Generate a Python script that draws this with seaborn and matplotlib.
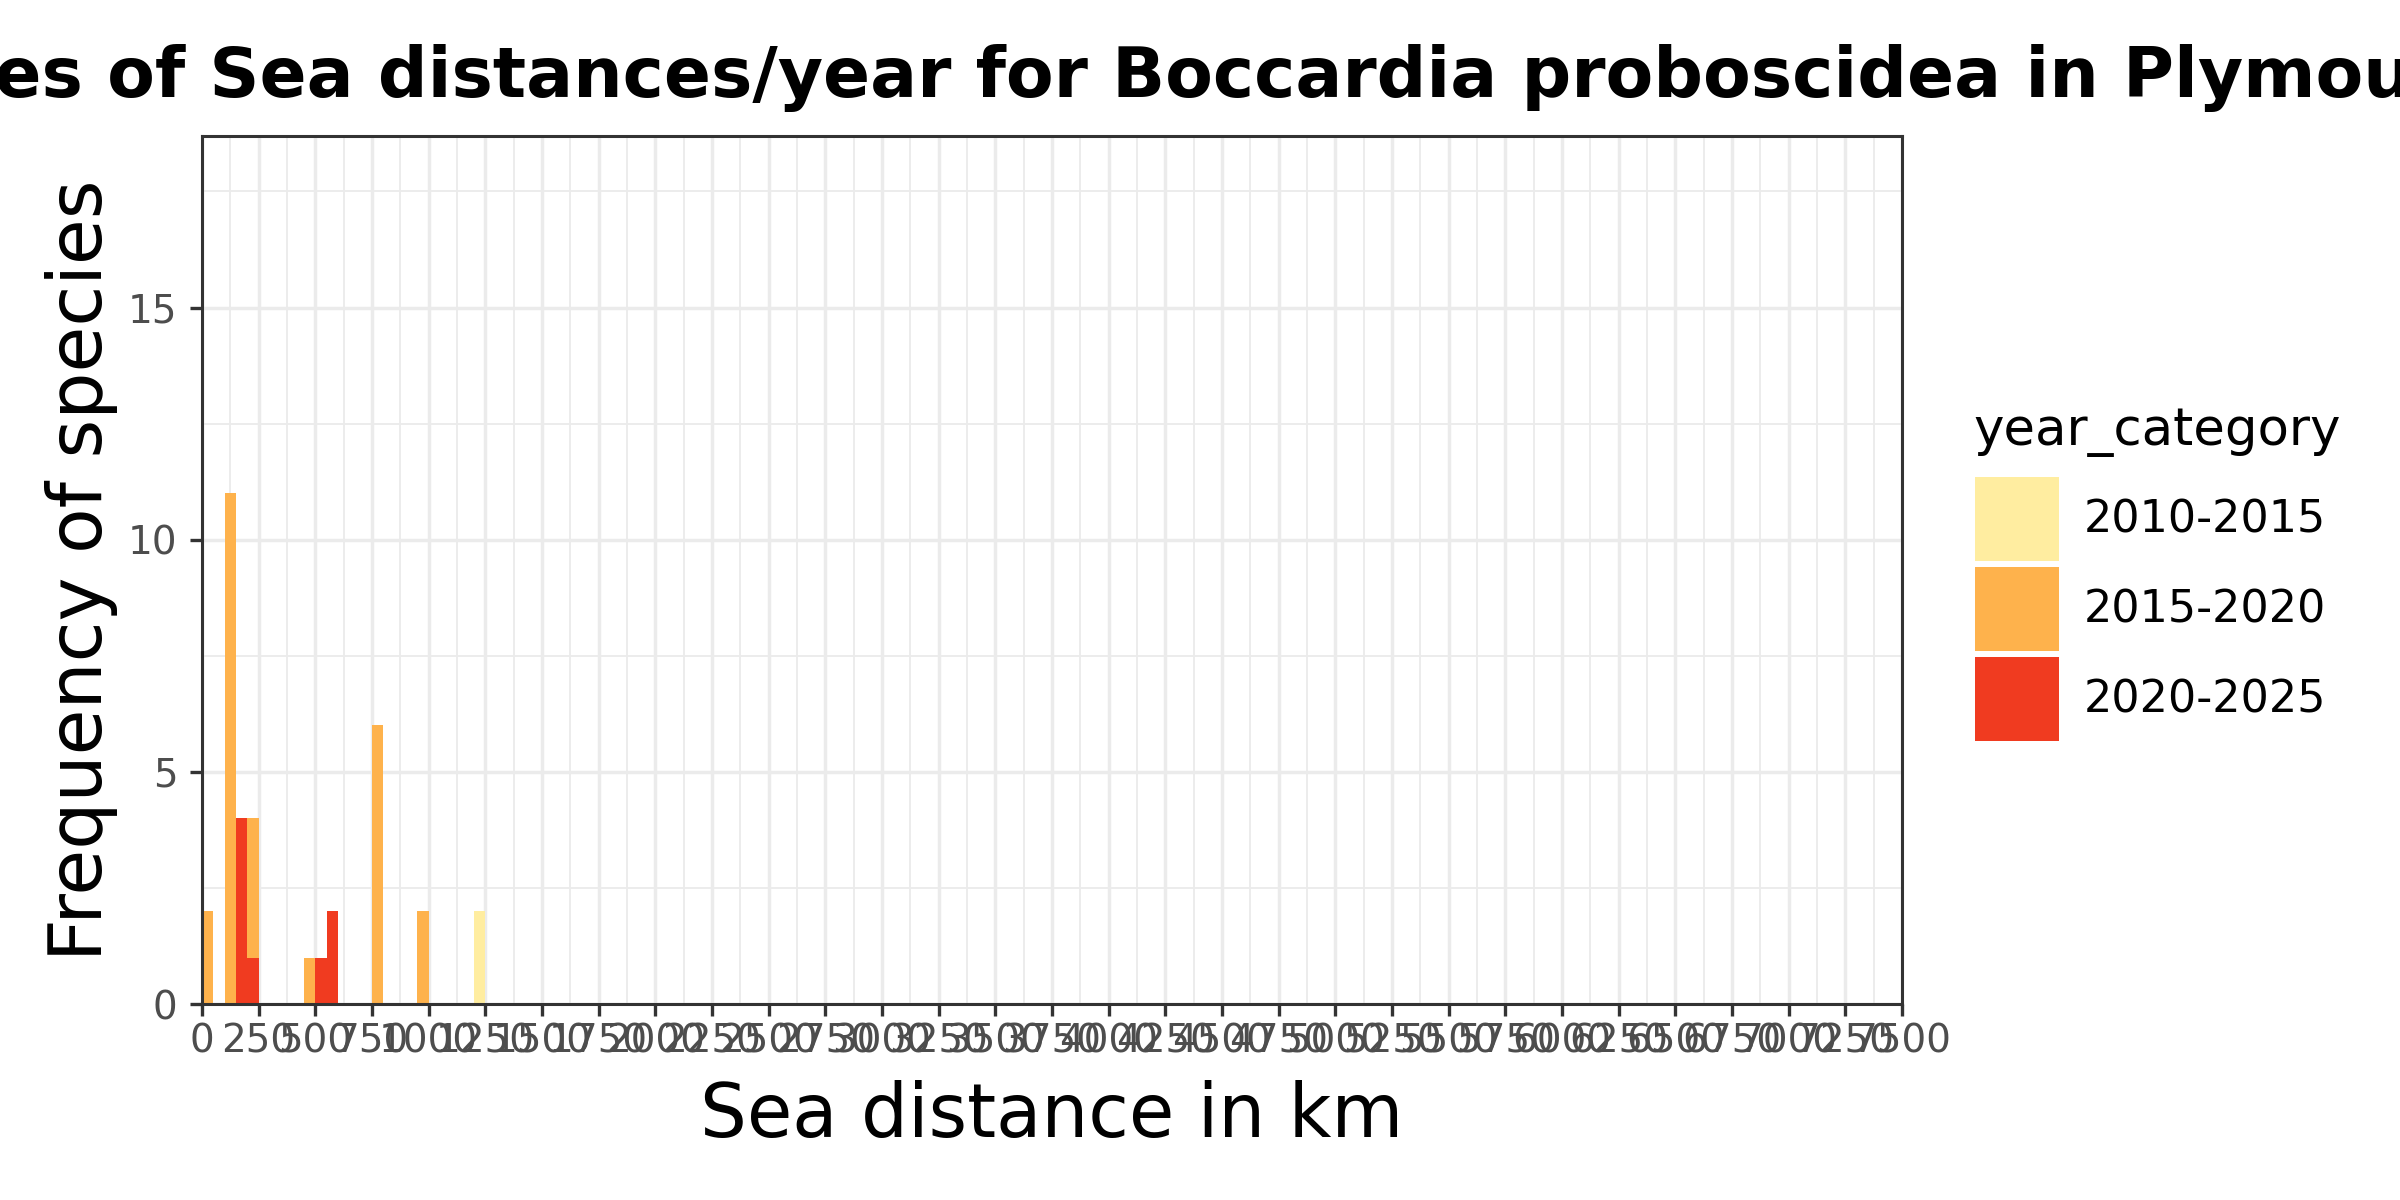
import pandas as pd
import matplotlib
matplotlib.use("Agg")
import matplotlib.pyplot as plt
from matplotlib.patches import Patch
from matplotlib.ticker import MultipleLocator
import seaborn as sns

# %% Data
# bar centres in km (bins are 50 km wide) and number of species in each
year_labels = ['2010-2015', '2015-2020', '2020-2025']
dist_2010 = [1225]
count_2010 = [2]
dist_2015 = [25, 125, 225, 475, 775, 975]
count_2015 = [2, 11, 4, 1, 6, 2]
dist_2020 = [175, 225, 525, 575]
count_2020 = [4, 1, 1, 2]
year_colours = ['#FFEDA0', '#FEB24C', '#F03B20']
x_ticks = list(range(0, 7750, 250))
y_ticks = [0, 5, 10, 15]

# %% Style (close to ggplot theme_bw)
sns.set_theme(style="whitegrid")
plt.rcParams['font.family'] = ['DejaVu Sans']
plt.rcParams['text.color'] = 'black'
grid_col = '#EBEBEB'
dark = '#333333'

fig = plt.figure(figsize=(12, 6), dpi=200)
ax = fig.add_axes([202 / 2400, 1 - 1004 / 1200, 1700 / 2400, 868.3 / 1200])
ax.set_facecolor('white')
ax.set_axisbelow(True)

series = [(dist_2010, count_2010), (dist_2015, count_2015),
          (dist_2020, count_2020)]
for (dist, count), col in zip(series, year_colours):
    df = pd.DataFrame({'dist': dist, 'n': count})
    sns.histplot(data=df, x='dist', weights='n', binwidth=50,
                 binrange=(0, 1250), color=col, alpha=1, linewidth=0, ax=ax)

ax.set_xlim(0, 7500)
ax.set_ylim(0, 18.7)
ax.set_xticks(x_ticks)
ax.set_xticklabels([str(t) for t in x_ticks])
ax.set_yticks(y_ticks)
ax.xaxis.set_minor_locator(MultipleLocator(125))
ax.yaxis.set_minor_locator(MultipleLocator(2.5))
ax.grid(which='major', color=grid_col, linewidth=1.25)
ax.grid(which='minor', color=grid_col, linewidth=0.65)
ax.tick_params(which='major', direction='out', length=4.3, width=1.2,
               color=dark, labelcolor='#4D4D4D', labelsize=14,
               bottom=True, left=True)
ax.tick_params(axis='x', pad=2.5)
ax.tick_params(axis='y', pad=4.5)
ax.tick_params(which='minor', length=0)
for sp in ax.spines.values():
    sp.set_visible(True)
    sp.set_color(dark)
    sp.set_linewidth(1.1)
ax.set_xlabel('')
ax.set_ylabel('')

# axis titles and plot title
fig.text(1052 / 2400, 1 - 1137 / 1200, 'Sea distance in km', fontsize=26.6,
         ha='center', va='baseline', color='black')
fig.text(102 / 2400, 1 - 570 / 1200, 'Frequency of species', fontsize=26.8,
         rotation=90, rotation_mode='anchor', ha='center', va='baseline',
         color='black')
fig.text(1052 / 2400, 1 - 97 / 1200,
         'Frequencies of Sea distances/year for Boccardia proboscidea in Plymouth',
         fontsize=25, fontweight='bold', ha='center', va='baseline',
         color='black')

# legend (title drawn as its own text so the gap above the keys matches)
fig.text(1973 / 2400, 1 - 445 / 1200, 'year_category', fontsize=18.5,
         ha='left', va='baseline', color='black')
handles = [Patch(facecolor=c, edgecolor='none') for c in year_colours]
leg = fig.legend(handles, year_labels,
                 loc='upper left', bbox_to_anchor=(1975 / 2400, 1 - 477 / 1200),
                 frameon=False, fontsize=16,
                 handlelength=1.89, handleheight=2.53, labelspacing=0.135,
                 handletextpad=0.55, borderpad=0, borderaxespad=0)
for t in leg.get_texts():
    t.set_color('black')

fig.savefig('out.png', dpi=200)
